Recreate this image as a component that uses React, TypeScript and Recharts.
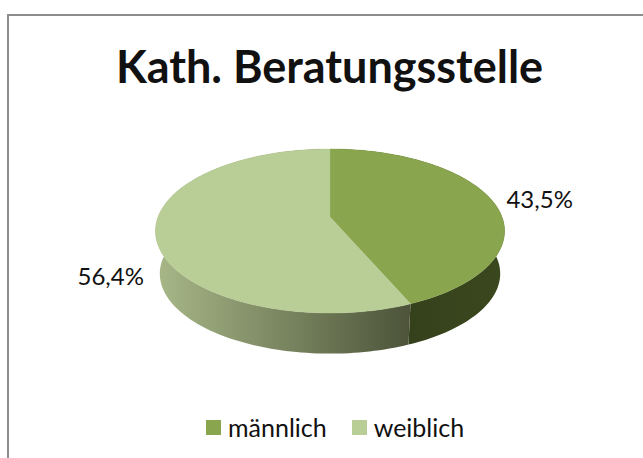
import React from 'react';
import { PieChart, Pie, Cell, Legend } from 'recharts';

const categories = ['männlich', 'weiblich'];
const shares = [43.5, 56.4];
const topColors = ['#89a54e', '#b9cd96'];
const sideFills = ['url(#sideMale)', 'url(#sideFemale)'];

const chartData = categories.map((name, i) => ({ name, value: shares[i] }));

// the 3D look: perspective projection of the flat pie circle
const TILT = 0.1707;
const SQUASH = 0.463;
const DEPTH = 43;
const RIM_SCALE = 0.975;
// label offsets from the projected point, same order as categories
const labelNudge = [[0, 1], [10, 37]];

const project = (cx: number, cy: number, r: number, deg: number, f = 1) => {
  const a = (deg * Math.PI) / 180;
  const u = Math.cos(a) * f;
  const v = Math.sin(a) * f;
  const d = 1 + TILT * v;
  return [(r * u) / d, (-r * SQUASH * v) / d];
};

const arcPoints = (p: any) => {
  const pts: number[][] = [];
  const steps = Math.max(2, Math.ceil(Math.abs(p.endAngle - p.startAngle) / 1.5));
  for (let i = 0; i <= steps; i++) {
    const deg = p.startAngle + ((p.endAngle - p.startAngle) * i) / steps;
    pts.push(project(p.cx, p.cy, p.outerRadius, deg));
  }
  return pts;
};

const TopFace = (p: any) => {
  const rim = arcPoints(p).map(([x, y]) => `${(p.cx + x).toFixed(2)},${(p.cy + y).toFixed(2)}`);
  return <polygon points={`${p.cx},${p.cy} ${rim.join(' ')}`} fill={p.fill} stroke={p.fill} strokeWidth={0.4} />;
};

const SideFace = (p: any) => {
  const pts = arcPoints(p);
  const upper = pts.map(([x, y]) => `${(p.cx + x).toFixed(2)},${(p.cy + y).toFixed(2)}`);
  const lower = pts
    .slice()
    .reverse()
    .map(([x, y]) => `${(p.cx + x * RIM_SCALE).toFixed(2)},${(p.cy + DEPTH + y * RIM_SCALE).toFixed(2)}`);
  return <polygon points={[...upper, ...lower].join(' ')} fill={p.fill} />;
};

const renderLabel = (p: any) => {
  const [x, y] = project(p.cx, p.cy, p.outerRadius, p.midAngle, 1.3);
  const [nx, ny] = labelNudge[p.index];
  return (
    <text
      x={p.cx + x + nx}
      y={p.cy + y + ny}
      textAnchor="middle"
      dominantBaseline="central"
      fontSize={24}
      fontFamily="Lato"
      fill="#111"
    >
      {shares[p.index].toFixed(1).replace('.', ',')}%
    </text>
  );
};

const renderLegend = (props: any) => (
  <div style={{ display: 'flex', justifyContent: 'flex-start', paddingLeft: 206, fontFamily: 'Lato', fontSize: 25, color: '#111' }}>
    {props.payload
      .filter((item: any) => item.type !== 'none')
      .map((item: any) => (
        <div key={item.value} style={{ display: 'flex', alignItems: 'center', marginRight: 25 }}>
          <span style={{ width: 15, height: 15, background: item.color, marginRight: 7 }} />
          <span>{item.value}</span>
        </div>
      ))}
  </div>
);

export default function App() {
  return (
    <div style={{ position: 'absolute', left: 0, top: 0, width: 643, height: 458, overflow: 'hidden', background: '#fff' }}>
      <div style={{ position: 'absolute', left: 7, top: 14, width: 700, height: 500, border: '2px solid #8c8c8c' }} />
      <div
        style={{
          position: 'absolute',
          left: 0,
          top: 37,
          width: 659,
          textAlign: 'center',
          fontFamily: 'Lato',
          fontWeight: 700,
          fontSize: 45,
          lineHeight: '58px',
          color: '#111',
        }}
      >
        Kath. Beratungsstelle
      </div>
      <div style={{ position: 'absolute', left: 0, top: 0 }}>
        <PieChart width={643} height={458} margin={{ top: 0, right: 0, bottom: 0, left: 0 }}>
          <defs>
            <linearGradient id="sideFemale" gradientUnits="userSpaceOnUse" x1="155" y1="0" x2="411" y2="0">
              <stop offset="0" stopColor="#a8b888" />
              <stop offset="1" stopColor="#4c5339" />
            </linearGradient>
            <linearGradient id="sideMale" gradientUnits="userSpaceOnUse" x1="411" y1="0" x2="505" y2="0">
              <stop offset="0" stopColor="#35411b" />
              <stop offset="1" stopColor="#3a481e" />
            </linearGradient>
          </defs>
          <Pie
            data={chartData}
            dataKey="value"
            nameKey="name"
            cx={330}
            cy={217}
            outerRadius={172}
            startAngle={90}
            endAngle={-270}
            stroke="none"
            legendType="none"
            shape={SideFace}
            isAnimationActive={false}
          >
            {chartData.map((d, i) => (
              <Cell key={d.name} fill={sideFills[i]} />
            ))}
          </Pie>
          <Pie
            data={chartData}
            dataKey="value"
            nameKey="name"
            cx={330}
            cy={217}
            outerRadius={172}
            startAngle={90}
            endAngle={-270}
            stroke="none"
            shape={TopFace}
            label={renderLabel}
            labelLine={false}
            isAnimationActive={false}
          >
            {chartData.map((d, i) => (
              <Cell key={d.name} fill={topColors[i]} />
            ))}
          </Pie>
          <Legend
            content={renderLegend}
            verticalAlign="bottom"
            wrapperStyle={{ position: 'absolute', left: 0, top: 412, bottom: 'auto', width: 643 }}
          />
        </PieChart>
      </div>
    </div>
  );
}
